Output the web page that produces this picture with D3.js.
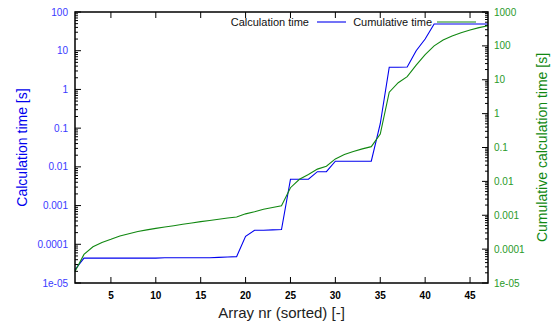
<!DOCTYPE html>
<html>
<head>
<meta charset="utf-8">
<script src="https://cdnjs.cloudflare.com/ajax/libs/d3/7.8.5/d3.min.js"></script>
<style>
  body { margin: 0; background: #fff; }
  svg { font-family: "Liberation Sans", Arial, sans-serif; }
</style>
</head>
<body>
<svg id="chart" width="559" height="324"></svg>
<script>
// array number (sorted)
var arrayNr = d3.range(1, 48);
// calculation time per array [s]
var calcTime = [2.2e-5, 4.4e-5, 4.4e-5, 4.4e-5, 4.4e-5, 4.4e-5, 4.4e-5, 4.4e-5, 4.4e-5, 4.4e-5,
  4.5e-5, 4.5e-5, 4.5e-5, 4.5e-5, 4.5e-5, 4.5e-5, 4.6e-5, 4.7e-5, 4.8e-5, 1.6e-4,
  2.3e-4, 2.3e-4, 2.35e-4, 2.4e-4, 4.8e-3, 4.8e-3, 4.8e-3, 7.5e-3, 7.5e-3, 0.014,
  0.014, 0.014, 0.014, 0.014, 0.13, 3.75, 3.75, 3.8, 10, 20,
  49, 49, 49, 49, 49, 49, 49];
// cumulative calculation time [s]
var cumTime = [2.2e-5, 7e-5, 1.17e-4, 1.58e-4, 1.95e-4, 2.45e-4, 2.85e-4, 3.3e-4, 3.7e-4, 4.1e-4,
  4.5e-4, 4.9e-4, 5.4e-4, 5.9e-4, 6.5e-4, 7.0e-4, 7.6e-4, 8.3e-4, 8.9e-4, 1.1e-3,
  1.27e-3, 1.5e-3, 1.7e-3, 1.9e-3, 6.5e-3, 0.0115, 0.016, 0.023, 0.028, 0.046,
  0.062, 0.076, 0.091, 0.106, 0.25, 4.3, 8.2, 12.3, 27, 55,
  100, 149, 195, 245, 295, 345, 395];

var xTicks = [5, 10, 15, 20, 25, 30, 35, 40, 45];
var yTicks = [1e-5, 1e-4, 1e-3, 0.01, 0.1, 1, 10, 100];
var y2Ticks = [1e-5, 1e-4, 1e-3, 0.01, 0.1, 1, 10, 100, 1000];
var yLabels = ["1e-05", "0.0001", "0.001", "0.01", "0.1", "1", "10", "100"];
var y2Labels = ["1e-05", "0.0001", "0.001", "0.01", "0.1", "1", "10", "100", "1000"];

var blue = "#0000ee", green = "#118811";
var blueText = "#3a3aff", greenText = "#2a9a2a";

var pL = 75, pR = 488, pT = 12, pB = 283;
var svg = d3.select("#chart");

var x = d3.scaleLinear().domain([1, 47]).range([pL, pR]);
var y = d3.scaleLog().domain([1e-5, 100]).range([pB, pT]);
var y2 = d3.scaleLog().domain([1e-5, 1000]).range([pB, pT]);

// minor log ticks
function minors(lo, hi) {
  var out = [];
  for (var e = lo; e < hi; e++)
    for (var m = 2; m <= 9; m++) out.push(m * Math.pow(10, e));
  return out;
}

var ax = svg.append("g").attr("stroke", "#000").attr("stroke-width", 1);
// x ticks bottom and top (inward)
xTicks.forEach(function(t) {
  ax.append("line").attr("x1", x(t)).attr("x2", x(t)).attr("y1", pB).attr("y2", pB - 6);
  ax.append("line").attr("x1", x(t)).attr("x2", x(t)).attr("y1", pT).attr("y2", pT + 6);
});
yTicks.forEach(function(t) {
  ax.append("line").attr("x1", pL).attr("x2", pL + 6).attr("y1", y(t)).attr("y2", y(t));
});
minors(-5, 2).forEach(function(t) {
  ax.append("line").attr("x1", pL).attr("x2", pL + 3).attr("y1", y(t)).attr("y2", y(t));
});
y2Ticks.forEach(function(t) {
  ax.append("line").attr("x1", pR).attr("x2", pR - 6).attr("y1", y2(t)).attr("y2", y2(t));
});
minors(-5, 3).forEach(function(t) {
  ax.append("line").attr("x1", pR).attr("x2", pR - 3).attr("y1", y2(t)).attr("y2", y2(t));
});

// tick labels
svg.append("g").selectAll("text").data(xTicks).enter().append("text")
  .attr("x", function(d) { return x(d); }).attr("y", 299)
  .attr("text-anchor", "middle").attr("font-size", 10).attr("font-weight", "bold")
  .attr("fill", "#000").text(function(d) { return d; });
svg.append("g").selectAll("text").data(yTicks).enter().append("text")
  .attr("x", 68).attr("y", function(d) { return y(d) + 3.5; })
  .attr("text-anchor", "end").attr("font-size", 10).attr("fill", blueText)
  .text(function(d, i) { return yLabels[i]; });
svg.append("g").selectAll("text").data(y2Ticks).enter().append("text")
  .attr("x", 494).attr("y", function(d) { return y2(d) + 3.5; })
  .attr("text-anchor", "start").attr("font-size", 10).attr("fill", greenText)
  .text(function(d, i) { return y2Labels[i]; });

// axis titles
svg.append("text").attr("transform", "translate(27," + ((pT + pB) / 2) + ") rotate(-90)")
  .attr("text-anchor", "middle").attr("font-size", 14).attr("fill", blue)
  .text("Calculation time [s]");
svg.append("text").attr("transform", "translate(547," + ((pT + pB) / 2) + ") rotate(-90)")
  .attr("text-anchor", "middle").attr("font-size", 14).attr("fill", green)
  .text("Cumulative calculation time [s]");
svg.append("text").attr("x", (pL + pR) / 2).attr("y", 318)
  .attr("text-anchor", "middle").attr("font-size", 15).attr("fill", "#222")
  .text("Array nr (sorted) [-]");

// data lines
var lineCalc = d3.line().x(function(d, i) { return x(arrayNr[i]); }).y(function(d) { return y(d); });
var lineCum = d3.line().x(function(d, i) { return x(arrayNr[i]); }).y(function(d) { return y2(d); });
svg.append("path").datum(calcTime).attr("d", lineCalc)
  .attr("fill", "none").attr("stroke", blue).attr("stroke-width", 1.1);
svg.append("path").datum(cumTime).attr("d", lineCum)
  .attr("fill", "none").attr("stroke", green).attr("stroke-width", 1.1);

// legend
var legY = 22;
svg.append("text").attr("x", 309).attr("y", legY + 4).attr("text-anchor", "end")
  .attr("font-size", 11).attr("fill", "#111").text("Calculation time");
svg.append("line").attr("x1", 317).attr("x2", 346).attr("y1", legY).attr("y2", legY)
  .attr("stroke", blue).attr("stroke-width", 1.1);
svg.append("text").attr("x", 432).attr("y", legY + 4).attr("text-anchor", "end")
  .attr("font-size", 11).attr("fill", "#111").text("Cumulative time");
svg.append("line").attr("x1", 437).attr("x2", 476).attr("y1", legY).attr("y2", legY)
  .attr("stroke", green).attr("stroke-width", 1.1);

// border
svg.append("rect").attr("x", pL).attr("y", pT).attr("width", pR - pL).attr("height", pB - pT)
  .attr("fill", "none").attr("stroke", "#000").attr("stroke-width", 1.5);
</script>
</body>
</html>
